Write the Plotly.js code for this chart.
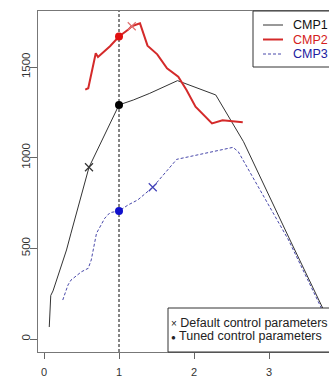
<!DOCTYPE html>
<html>
<head>
<meta charset="utf-8">
<script src="https://cdn.plot.ly/plotly-3.0.1.min.js"></script>
<style>
html, body { margin:0; padding:0; overflow:hidden; background:#fff; }
#chart { width:350px; height:378px; }
</style>
</head>
<body>
<div id="chart"></div>
<script>
// CMP1 (black solid)
var cmp1X = [0.07, 0.08, 0.09, 0.12, 0.19, 0.30, 0.36, 0.48, 0.60, 1.00, 1.19, 1.41, 1.78, 2.29, 2.66, 3.28, 3.72, 3.85];
var cmp1Y = [66, 200, 240, 265, 353, 491, 584, 770, 947, 1291, 1318, 1355, 1425, 1346, 1088, 546, 169, 55];
// CMP2 (red thick)
var cmp2X = [0.55, 0.59, 0.69, 0.72, 0.88, 1.00, 1.12, 1.17, 1.28, 1.38, 1.51, 1.64, 1.79, 1.90, 2.02, 2.24, 2.38, 2.65];
var cmp2Y = [1375, 1383, 1576, 1555, 1615, 1668, 1705, 1725, 1741, 1618, 1570, 1493, 1447, 1373, 1281, 1189, 1206, 1195];
// CMP3 (blue dashed)
var cmp3X = [0.25, 0.32, 0.36, 0.50, 0.59, 0.63, 0.70, 0.81, 0.88, 1.00, 1.12, 1.25, 1.45, 1.77, 2.52, 2.59, 3.26, 3.70, 3.85];
var cmp3Y = [215, 298, 325, 371, 390, 436, 583, 666, 697, 706, 739, 767, 837, 991, 1057, 1033, 546, 169, 40];
// Default control parameters (x markers): CMP1, CMP2, CMP3
var defaultX = [0.60, 1.17, 1.45];
var defaultY = [947, 1725, 837];
// Tuned control parameters (filled dots): CMP1, CMP2, CMP3
var tunedX = [1.00, 1.00, 1.00];
var tunedY = [1291, 1668, 706];
var seriesNames = ['CMP1', 'CMP2', 'CMP3'];
var markerLabels = ['Default control parameters', 'Tuned control parameters'];
var xTicks = [0, 1, 2, 3, 4];
var yTicks = [0, 500, 1000, 1500];
var tunedValue = 1;

var FONT = 'Liberation Sans, Arial, Helvetica, sans-serif';
var lineColors = ['#333333', '#d42a2a', '#4848aa'];
var lineWidths = [1, 2, 1];
var lineDashes = ['solid', 'solid', '3px,2px'];
var textColors = ['#111111', '#d42020', '#2020a0'];
var seriesX = [cmp1X, cmp2X, cmp3X];
var seriesY = [cmp1Y, cmp2Y, cmp3Y];

var traces = [];
for (var i = 0; i < 3; i++) {
  traces.push({x: seriesX[i], y: seriesY[i], mode: 'lines', name: seriesNames[i], showlegend: false,
    line: {color: lineColors[i], width: lineWidths[i], dash: lineDashes[i]}});
}
traces.push({x: defaultX, y: defaultY, mode: 'markers', showlegend: false, name: markerLabels[0],
   marker: {symbol: 'x-thin-open', size: 8, color: ['#333333', '#e07070', '#4040b8'], line: {width: 1.2}}});
traces.push({x: tunedX, y: tunedY, mode: 'markers', showlegend: false, name: markerLabels[1],
   marker: {symbol: 'circle', size: 8, color: ['#000000', '#e01010', '#1010cc']}});

// helpers: pixel -> paper
function px(p) { return (p - 38) / 304; }
function py(p) { return (352 - p) / 341; }

var shapes = [
  {type: 'line', xref: 'x', yref: 'paper', x0: tunedValue, x1: tunedValue, y0: 0, y1: 1,
   layer: 'below', line: {color: '#444', width: 1.3, dash: '3px,2px'}},
  // series legend box (top right)
  {type: 'rect', xref: 'paper', yref: 'paper', x0: px(253), x1: 1, y0: py(67), y1: 1,
   layer: 'above', fillcolor: '#fff', line: {color: '#333', width: 1}},
  // marker legend box (bottom right)
  {type: 'rect', xref: 'paper', yref: 'paper', x0: px(168), x1: 1, y0: 0, y1: py(308),
   layer: 'above', fillcolor: '#fff', line: {color: '#333', width: 1}}
];
var annotations = [];
var legRows = [25, 39.5, 54];
for (var k = 0; k < 3; k++) {
  shapes.push({type: 'line', xref: 'paper', yref: 'paper', x0: px(263), x1: px(283), y0: py(legRows[k]), y1: py(legRows[k]),
    layer: 'above', line: {color: lineColors[k], width: lineWidths[k], dash: lineDashes[k]}});
  annotations.push({xref: 'paper', yref: 'paper', x: px(291), y: py(legRows[k]), xanchor: 'left', yanchor: 'middle',
    showarrow: false, font: {size: 12.5, family: FONT, color: textColors[k]}, text: seriesNames[k]});
}
annotations.push({xref: 'paper', yref: 'paper', x: px(169), y: py(323), xanchor: 'left', yanchor: 'middle',
  align: 'left', showarrow: false, font: {size: 12.5, family: FONT, color: '#222'},
  text: '<span style="font-size:10px">×</span> ' + markerLabels[0]});
annotations.push({xref: 'paper', yref: 'paper', x: px(169), y: py(336), xanchor: 'left', yanchor: 'middle',
  align: 'left', showarrow: false, font: {size: 12.5, family: FONT, color: '#222'},
  text: '<span style="font-size:8px">●</span> ' + markerLabels[1]});

var layout = {
  width: 350, height: 378,
  margin: {l: 38, r: 8, t: 11, b: 26, pad: 0},
  paper_bgcolor: '#fff', plot_bgcolor: '#fff',
  font: {family: FONT, size: 11, color: '#333'},
  showlegend: false,
  xaxis: {range: [-0.08, 3.973], tickvals: xTicks, ticks: 'outside', ticklen: 6, tickcolor: '#666',
          showgrid: false, zeroline: false, showline: true, mirror: true, linecolor: '#777', linewidth: 1,
          ticklabelstandoff: 4, tickfont: {size: 11, color: '#333'}},
  yaxis: {range: [-71.7, 1809], tickvals: yTicks, ticks: 'outside', ticklen: 7, tickcolor: '#666',
          tickangle: -90, showgrid: false, zeroline: false, showline: true, mirror: true,
          ticklabelstandoff: -5,
          linecolor: '#777', linewidth: 1, tickfont: {size: 11.5, color: '#333'}},
  shapes: shapes,
  annotations: annotations
};

Plotly.newPlot('chart', traces, layout, {displayModeBar: false, staticPlot: true});
</script>
</body>
</html>
